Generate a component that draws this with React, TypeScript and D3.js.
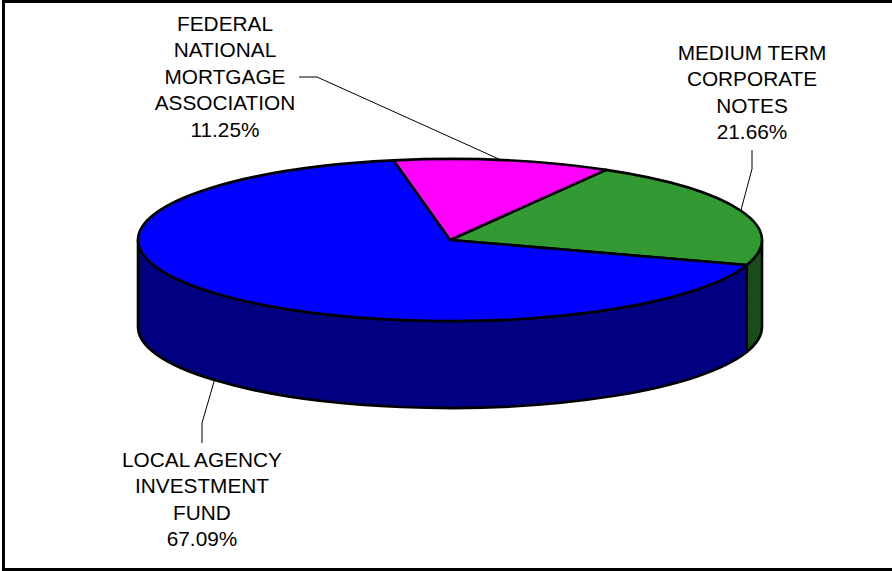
import React from "react";
import * as d3 from "d3";

// Portfolio allocation, in percent of the total
const categories = ["MEDIUM TERM CORPORATE NOTES", "FEDERAL NATIONAL MORTGAGE ASSOCIATION", "LOCAL AGENCY INVESTMENT FUND"];
const shares = [21.66, 11.25, 67.09];
const topColors = ["#339933", "#ff00ff", "#0000ff"];
const sideColors = ["#1a4d1a", "#800080", "#000080"];
const labelLines = [
  ["MEDIUM TERM", "CORPORATE", "NOTES", "21.66%"],
  ["FEDERAL", "NATIONAL", "MORTGAGE", "ASSOCIATION", "11.25%"],
  ["LOCAL AGENCY", "INVESTMENT", "FUND", "67.09%"],
];
const labelCentres = [[752, 60], [225, 31], [202, 467]];
const leaders = [
  [[752, 150], [752, 169], [741, 210]],
  [[299, 77], [317, 77], [501, 160]],
  [[202, 443], [202, 423], [214.5, 380]],
];

const W = 892, H = 571;
const cx = 450, cy = 240, rx = 312, ry = 81, depth = 87;
const START_DEG = 18 + 360; // first slice runs anticlockwise from here
const deg = Math.PI / 180;

const pieLayout = d3.pie<number>().sort(null)
  .startAngle(START_DEG * deg).endAngle((START_DEG - 360) * deg);
const slices = pieLayout(shares);

// Ellipse point for a screen angle measured clockwise from east
const pt = (a: number, dy = 0): [number, number] => [cx + rx * Math.cos(a), cy + ry * Math.sin(a) + dy];
const f = (p: [number, number]) => `${p[0].toFixed(2)},${p[1].toFixed(2)}`;

function topPath(a0: number, a1: number) {
  const large = Math.abs(a1 - a0) > Math.PI ? 1 : 0;
  return `M${cx},${cy}L${f(pt(a0))}A${rx},${ry} 0 ${large} 0 ${f(pt(a1))}Z`;
}

// Wall below the rim between two angles on the front half of the ellipse
function sidePath(a0: number, a1: number) {
  const p0 = pt(a0), p1 = pt(a1);
  return `M${f(p0)}A${rx},${ry} 0 0 1 ${f(p1)}L${f(pt(a1, depth))}A${rx},${ry} 0 0 0 ${f(pt(a0, depth))}Z`;
}

const line = d3.line();

export default function App() {
  // Angles here are in screen terms: the layout's values run downward from START_DEG
  const a = slices.map((s) => ({ a0: s.startAngle, a1: s.endAngle }));
  const walls = [
    { i: 0, a0: 0, a1: 18 * deg },
    { i: 2, a0: 18 * deg, a1: Math.PI },
  ];
  return (
    <svg width={W} height={H} style={{ position: "absolute", left: 0, top: 0, background: "#fff" }}
      fontFamily="'Liberation Sans', Arial, sans-serif" fontSize={20.8}>
      {/* Frame: top, left and bottom rules only */}
      <path d={`M${W},1.5H3.5V${H - 1.5}H${W}`} fill="none" stroke="#000" strokeWidth={3} />
      {walls.map((w) => (
        <path key={w.i} d={sidePath(w.a0, w.a1)} fill={sideColors[w.i]} stroke="#000" strokeWidth={2.6} strokeLinejoin="round" />
      ))}
      {a.map((s, i) => (
        <path key={categories[i]} d={topPath(s.a0, s.a1)} fill={topColors[i]} stroke="#000" strokeWidth={2.6} strokeLinejoin="round" />
      ))}
      {leaders.map((l, i) => (
        <path key={i} d={line(l as [number, number][]) ?? ""} fill="none" stroke="#000" strokeWidth={1} />
      ))}
      {labelLines.map((lines, i) => (
        <text key={i} textAnchor="middle" fill="#000">
          {lines.map((t, j) => (
            <tspan key={j} x={labelCentres[i][0]} y={labelCentres[i][1] + j * 26.4}>{t}</tspan>
          ))}
        </text>
      ))}
    </svg>
  );
}
